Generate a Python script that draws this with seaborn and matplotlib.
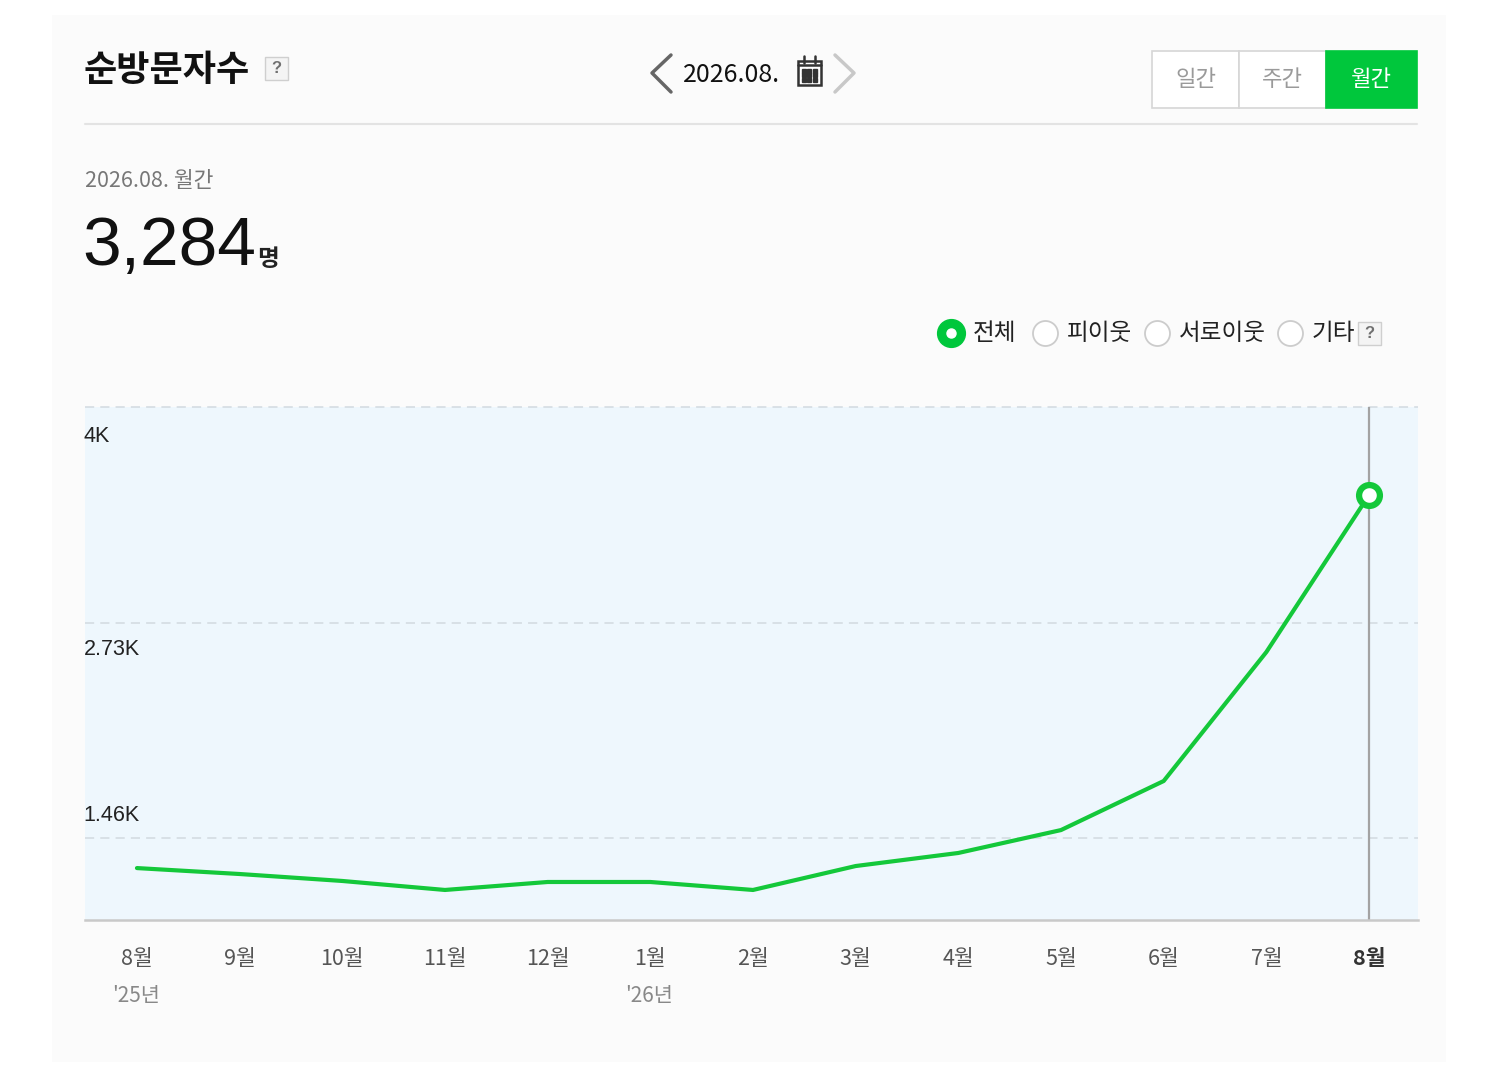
import matplotlib
matplotlib.use("Agg")
import matplotlib.pyplot as plt
import seaborn as sns
import pandas as pd
from matplotlib.patches import Rectangle
from matplotlib.lines import Line2D

# ---------------------------------------------------------------
# Données
# ---------------------------------------------------------------
months = ["8월", "9월", "10월", "11월", "12월", "1월", "2월",
          "3월", "4월", "5월", "6월", "7월", "8월"]
visitors = [1283, 1248, 1207, 1154, 1201, 1201, 1154,
            1295, 1372, 1507, 1796, 2556, 3481]
year_marks = [(0, "'25년"), (5, "'26년")]
grid_values = [4000, 2730, 1460]
grid_labels = ["4K", "2.73K", "1.46K"]
tabs = ["일간", "주간", "월간"]
radio_labels = ["전체", "피이웃", "서로이웃", "기타"]

df = pd.DataFrame({"idx": range(len(months)), "visitors": visitors})

GREEN = "#00c73c"
LINE_GREEN = "#14c83a"
W, H = 1500, 1080


def fx(x):
    return x / W


def fy(y):
    return 1 - y / H


sns.set_theme(style="white")
plt.rcParams["font.family"] = ["Noto Sans CJK KR", "DejaVu Sans"]

fig = plt.figure(figsize=(15, 10.8), dpi=100)
fig.patch.set_facecolor("white")

# fond de la carte
fig.add_artist(Rectangle((fx(52), fy(1062)), (1446 - 52) / W, (1062 - 15) / H,
                         transform=fig.transFigure, fc="#fbfbfb", ec="none", zorder=-5))

# ---------------------------------------------------------------
# En-tête
# ---------------------------------------------------------------
fig.text(fx(84), fy(70), "순방문자수", fontsize=26, fontweight="bold",
         color="#111111", ha="left", va="center")


def help_box(x, y):
    fig.add_artist(Rectangle((fx(x), fy(y + 23)), 23 / W, 23 / H, transform=fig.transFigure,
                             fc="#f4f4f4", ec="#cfcfcf", lw=1))
    fig.text(fx(x + 11.5), fy(y + 11.5), "?", fontsize=12, fontweight="bold",
             color="#707070", ha="center", va="center",
             family=["Liberation Sans", "DejaVu Sans"])


help_box(265, 57)

# navigation de date
fig.add_artist(Line2D([fx(671), fx(652), fx(671)], [fy(55), fy(73), fy(92)],
                      transform=fig.transFigure, color="#666666", lw=2.5))
fig.add_artist(Line2D([fx(835), fx(854), fx(835)], [fy(55), fy(73), fy(92)],
                      transform=fig.transFigure, color="#c8c8c8", lw=2.5))
fig.text(fx(683), fy(75), "2026.08.", fontsize=18, color="#111111", ha="left", va="center")

# icône calendrier
fig.add_artist(Rectangle((fx(798), fy(85)), 23 / W, 24 / H, transform=fig.transFigure,
                         fc="white", ec="#333333", lw=1.8))
fig.add_artist(Line2D([fx(798), fx(821)], [fy(65), fy(65)], transform=fig.transFigure,
                      color="#333333", lw=1.8))
for xr in (804, 815):
    fig.add_artist(Line2D([fx(xr), fx(xr)], [fy(56), fy(63)], transform=fig.transFigure,
                          color="#333333", lw=1.8))
for xd in (804, 809.5, 815):
    for yd in (70.5, 75, 79.5):
        fig.add_artist(Line2D([fx(xd)], [fy(yd)], transform=fig.transFigure, marker="s",
                              ms=2.3, color="#333333", lw=0))

# onglets
tab_x = [1152, 1239, 1326, 1417]
for i, label in enumerate(tabs):
    x0, x1 = tab_x[i], tab_x[i + 1]
    active = i == len(tabs) - 1
    fig.add_artist(Rectangle((fx(x0), fy(108)), (x1 - x0) / W, 57 / H, transform=fig.transFigure,
                             fc=GREEN if active else "white",
                             ec=GREEN if active else "#d6d6d6", lw=1.2))
    fig.text(fx((x0 + x1) / 2), fy(79), label, fontsize=16,
             color="white" if active else "#9a9a9a", ha="center", va="center")

fig.add_artist(Line2D([fx(85), fx(1417)], [fy(124), fy(124)], transform=fig.transFigure,
                      color="#e3e3e3", lw=1.5))

# total du mois
fig.text(fx(85), fy(181), "2026.08. 월간", fontsize=15.5, color="#777777", ha="left", va="center")
fig.text(fx(82), fy(265), "3,284", fontsize=50, color="#111111", ha="left", va="baseline",
         family=["Liberation Sans", "DejaVu Sans"])
fig.text(fx(257), fy(266), "명", fontsize=17, fontweight="bold", color="#222222",
         ha="left", va="baseline")

# boutons radio
radio_x = [951, 1045, 1157, 1290]
for i, label in enumerate(radio_labels):
    cx = radio_x[i]
    if i == 0:
        fig.add_artist(Line2D([fx(cx)], [fy(333)], transform=fig.transFigure, marker="o",
                              ms=20, mfc=GREEN, mec=GREEN, lw=0))
        fig.add_artist(Line2D([fx(cx)], [fy(333)], transform=fig.transFigure, marker="o",
                              ms=6.5, mfc="white", mec="white", lw=0))
    else:
        fig.add_artist(Line2D([fx(cx)], [fy(333)], transform=fig.transFigure, marker="o",
                              ms=18, mfc="white", mec="#cccccc", mew=1.3, lw=0))
    fig.text(fx(cx + 22), fy(333), label, fontsize=17, color="#222222",
             ha="left", va="center")

help_box(1358, 322)

# ---------------------------------------------------------------
# Graphique
# ---------------------------------------------------------------
ax = fig.add_axes([fx(85), fy(920), (1418 - 85) / W, (920 - 407) / H])
ax.set_facecolor("#eef7fd")

for v in grid_values:
    ax.axhline(v, color="#d2dae0", lw=1.1, ls=(0, (6, 4)), clip_on=False, zorder=1)

ax.axvline(len(months) - 1, color="#a3a3a3", lw=1.6, zorder=2)

sns.lineplot(data=df, x="idx", y="visitors", color=LINE_GREEN, lw=3, ax=ax, zorder=3)
ax.plot(df["idx"].iloc[-1], df["visitors"].iloc[-1], "o", ms=15, mfc="white",
        mec=LINE_GREEN, mew=4.5, zorder=5)

ax.set_xlim(-0.506, 12.477)
ax.set_ylim(977, 4000)

for s in ["top", "left", "right"]:
    ax.spines[s].set_visible(False)
ax.spines["bottom"].set_color("#c9c9c9")
ax.spines["bottom"].set_linewidth(1.8)

ax.set_yticks([])
ax.set_xticks(df["idx"])
ax.set_xticklabels(months)
ax.tick_params(axis="x", length=0, pad=20, labelsize=15.5, labelcolor="#555555")
last = ax.get_xticklabels()[-1]
last.set_fontweight("bold")
last.set_color("#333333")
ax.set_xlabel("")
ax.set_ylabel("")

for i, label in year_marks:
    ax.annotate(label, xy=(i, 0), xycoords=("data", "axes fraction"),
                xytext=(-18, -55), textcoords="offset points",
                ha="left", va="center", fontsize=15, color="#888888")

label_offsets = [-21, -19.5, 16.5]
for v, label, off in zip(grid_values, grid_labels, label_offsets):
    ax.annotate(label, xy=(0, v), xycoords=("axes fraction", "data"),
                xytext=(-1, off), textcoords="offset points",
                ha="left", va="center", fontsize=15.5, color="#222222",
                family=["Liberation Sans", "DejaVu Sans"])

fig.savefig("out.png", dpi=100, facecolor=fig.get_facecolor())
